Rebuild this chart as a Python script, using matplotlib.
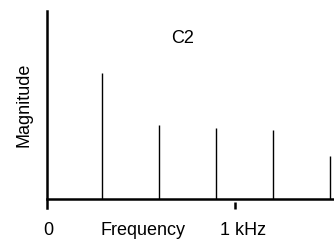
import matplotlib
matplotlib.use("Agg")
import matplotlib.pyplot as plt

# Data (frequency in Hz, magnitude in arbitrary units)
harmonic_freqs = [293, 596, 899, 1202, 1505]
magnitudes = [126, 74, 71, 69, 43]
tick_freq = 1000
title_text = "C2"
x_label = "Frequency"
y_label = "Magnitude"
tick_label = "1 kHz"
zero_label = "0"

plt.rcParams['font.family'] = ['Liberation Sans', 'DejaVu Sans']

W, H = 334, 241
fig = plt.figure(figsize=(W / 100, H / 100), dpi=100)
ax = fig.add_axes([47 / W, (H - 208) / H, (W - 47) / W, 197 / H])
ax.set_xlim(0, (W - 47) / 0.188)
ax.set_ylim(-9, 188)

for s in ['top', 'right']:
    ax.spines[s].set_visible(False)
ax.spines['bottom'].set_position(('data', 0))
ax.spines['bottom'].set_linewidth(1.8)
ax.spines['left'].set_linewidth(1.8)
ax.set_xticks([])
ax.set_yticks([])

ax.vlines(harmonic_freqs, 0, magnitudes, color='black', linewidth=1.0)

ax.plot([tick_freq, tick_freq], [-3, -10], color='black', linewidth=1.8,
        clip_on=False, solid_capstyle='butt')

fs = 13
ax.text(5, -36, zero_label, ha='center', va='baseline', fontsize=fs, clip_on=False)
ax.text(513, -36, x_label, ha='center', va='baseline', fontsize=fs, clip_on=False)
ax.text(1045, -36, tick_label, ha='center', va='baseline', fontsize=fs, clip_on=False)
ax.text(723, 156, title_text, ha='center', va='baseline', fontsize=fs)
fig.text(24 / W, 1 - 105 / H, y_label, rotation=90, ha='center', va='center', fontsize=fs)

fig.savefig("out.png", dpi=100)
